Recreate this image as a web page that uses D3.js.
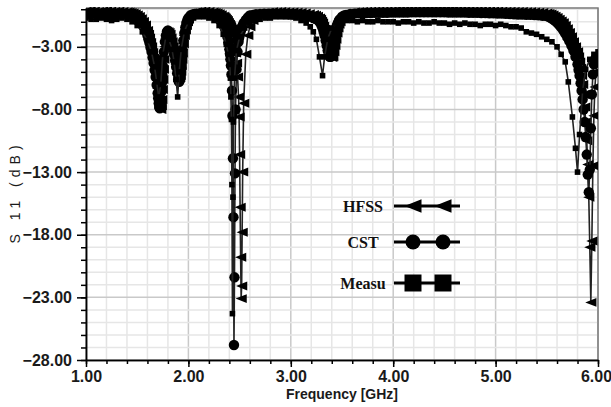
<!DOCTYPE html>
<html lang="en">
<head>
<meta charset="utf-8">
<title>S11 vs Frequency</title>
<script src="https://cdnjs.cloudflare.com/ajax/libs/d3/7.8.5/d3.min.js"></script>
<style>
  body { margin: 0; background: #fff; }
  .axis text { font-family: Arial, "Liberation Sans", sans-serif; font-size: 16px; font-weight: bold; fill: #1a1a1a; }
  .axis path, .axis line { stroke: #000; stroke-width: 1.5px; }
  .title { font-family: Arial, "Liberation Sans", sans-serif; fill: #1a1a1a; }
  .legend text { font-family: "Times New Roman", "Liberation Serif", serif; font-size: 16px; font-weight: bold; fill: #111; }
</style>
</head>
<body>
<script>
// simulated curves share one frequency grid (GHz)
var simFreq = [
  1.00, 1.04, 1.08, 1.12, 1.16, 1.20, 1.24, 1.28, 1.32, 1.36,
  1.40, 1.42, 1.44, 1.46, 1.48, 1.50, 1.52, 1.54, 1.56, 1.58,
  1.60, 1.61, 1.62, 1.63, 1.64, 1.65, 1.66, 1.67, 1.68, 1.69,
  1.70, 1.705, 1.71, 1.715, 1.72, 1.725, 1.73, 1.735, 1.74, 1.745,
  1.75, 1.755, 1.76, 1.77, 1.78, 1.79, 1.80, 1.81, 1.82, 1.83,
  1.84, 1.85, 1.86, 1.87, 1.88, 1.89, 1.90, 1.905, 1.91, 1.915,
  1.92, 1.925, 1.93, 1.935, 1.94, 1.95, 1.96, 1.97, 1.98, 1.99,
  2.00, 2.02, 2.04, 2.06, 2.08, 2.12, 2.16, 2.20, 2.24, 2.26,
  2.28, 2.30, 2.32, 2.34, 2.35, 2.36, 2.37, 2.38, 2.39, 2.40,
  2.405, 2.41, 2.415, 2.42, 2.425, 2.43, 2.435, 2.44, 2.445, 2.45,
  2.455, 2.46, 2.47, 2.48, 2.49, 2.495, 2.50, 2.505, 2.51, 2.515,
  2.52, 2.525, 2.53, 2.54, 2.56, 2.58, 2.60, 2.63, 2.66, 2.70,
  2.74, 2.78, 2.82, 2.86, 2.90, 2.94, 2.98, 3.02, 3.06, 3.10,
  3.14, 3.18, 3.22, 3.24, 3.26, 3.28, 3.29, 3.30, 3.31, 3.32,
  3.33, 3.34, 3.35, 3.36, 3.37, 3.38, 3.39, 3.40, 3.41, 3.42,
  3.43, 3.44, 3.45, 3.46, 3.47, 3.48, 3.50, 3.52, 3.54, 3.58,
  3.62, 3.66, 3.70, 3.74, 3.78, 3.82, 3.86, 3.90, 3.94, 3.98,
  4.02, 4.06, 4.10, 4.14, 4.18, 4.22, 4.26, 4.30, 4.34, 4.38,
  4.42, 4.46, 4.50, 4.54, 4.58, 4.62, 4.66, 4.70, 4.74, 4.78,
  4.82, 4.86, 4.90, 4.94, 4.98, 5.02, 5.06, 5.10, 5.14, 5.18,
  5.22, 5.26, 5.30, 5.34, 5.38, 5.42, 5.46, 5.50, 5.52, 5.54,
  5.56, 5.58, 5.60, 5.62, 5.64, 5.66, 5.68, 5.70, 5.72, 5.74,
  5.76, 5.78, 5.80, 5.81, 5.82, 5.83, 5.84, 5.85, 5.86, 5.87,
  5.88, 5.89, 5.90, 5.91, 5.92, 5.93, 5.94, 5.95, 5.96, 5.97,
  5.98, 5.99, 6.00
];
var hfssDb = [
  -0.15, -0.12, -0.15, -0.18, -0.14, -0.12, -0.15, -0.17, -0.15, -0.18,
  -0.2, -0.22, -0.25, -0.3, -0.35, -0.45, -0.58, -0.75, -0.97, -1.25,
  -1.7, -2.0, -2.3, -2.65, -3.0, -3.45, -3.9, -4.45, -5.0, -5.65,
  -6.3, -6.65, -7.0, -7.35, -7.7, -7.9, -8.0, -7.7, -7.2, -6.4,
  -5.6, -4.8, -4.0, -3.0, -2.3, -1.95, -1.8, -1.85, -2.0, -2.3,
  -2.6, -3.0, -3.4, -3.9, -4.4, -4.8, -5.2, -5.4, -5.5, -5.45,
  -5.3, -4.95, -4.5, -4.0, -3.5, -2.75, -2.1, -1.65, -1.3, -1.0,
  -0.8, -0.5, -0.35, -0.27, -0.2, -0.15, -0.15, -0.18, -0.22, -0.26,
  -0.3, -0.36, -0.44, -0.55, -0.62, -0.7, -0.8, -0.9, -1.05, -1.2,
  -1.3, -1.4, -1.5, -1.6, -1.75, -1.9, -2.1, -2.4, -2.6, -2.9,
  -3.2, -3.5, -4.3, -5.4, -7.0, -8.6, -11.6, -15.8, -19.8, -23.1,
  -22.1, -17.8, -13.0, -7.5, -3.6, -2.1, -1.4, -0.9, -0.6, -0.4,
  -0.3, -0.25, -0.2, -0.2, -0.18, -0.2, -0.22, -0.22, -0.24, -0.26,
  -0.3, -0.35, -0.42, -0.48, -0.55, -0.7, -0.8, -0.95, -1.1, -1.35,
  -1.6, -1.95, -2.3, -2.7, -3.1, -3.45, -3.7, -3.85, -3.8, -3.4,
  -2.9, -2.4, -1.9, -1.5, -1.2, -1.0, -0.7, -0.52, -0.4, -0.3,
  -0.22, -0.2, -0.18, -0.16, -0.15, -0.15, -0.14, -0.14, -0.13, -0.13,
  -0.12, -0.12, -0.12, -0.11, -0.11, -0.11, -0.11, -0.1, -0.1, -0.1,
  -0.1, -0.1, -0.1, -0.1, -0.1, -0.11, -0.11, -0.11, -0.12, -0.12,
  -0.12, -0.12, -0.13, -0.13, -0.14, -0.14, -0.15, -0.16, -0.16, -0.17,
  -0.18, -0.18, -0.19, -0.2, -0.21, -0.23, -0.26, -0.3, -0.33, -0.38,
  -0.45, -0.55, -0.66, -0.8, -0.93, -1.07, -1.3, -1.55, -1.85, -2.2,
  -2.6, -3.0, -3.4, -3.8, -4.2, -4.7, -5.3, -6.0, -6.8, -7.8,
  -9.0, -10.5, -12.4, -15.0, -19.0, -23.4, -18.5, -12.5, -8.5, -6.2,
  -5.0, -4.3, -3.9
];
var cstDb = [
  -0.35, -0.3, -0.32, -0.38, -0.33, -0.3, -0.35, -0.36, -0.34, -0.38,
  -0.38, -0.41, -0.45, -0.52, -0.6, -0.72, -0.87, -1.1, -1.35, -1.7,
  -2.1, -2.4, -2.7, -3.05, -3.4, -3.85, -4.3, -4.85, -5.4, -6.05,
  -6.7, -7.1, -7.5, -7.8, -7.9, -7.6, -7.2, -6.6, -5.9, -5.2,
  -4.5, -3.9, -3.4, -2.6, -2.1, -1.8, -1.7, -1.8, -2.0, -2.35,
  -2.7, -3.15, -3.6, -4.1, -4.6, -5.1, -5.6, -5.75, -5.8, -5.6,
  -5.2, -4.7, -4.2, -3.7, -3.2, -2.5, -1.9, -1.45, -1.1, -0.85,
  -0.7, -0.5, -0.42, -0.38, -0.35, -0.32, -0.33, -0.36, -0.45, -0.52,
  -0.6, -0.72, -0.9, -1.2, -1.4, -1.6, -1.9, -2.2, -2.65, -3.2,
  -3.55, -4.0, -4.5, -5.2, -6.5, -8.5, -11.9, -16.6, -26.8, -21.4,
  -13.1, -8.0, -4.8, -3.4, -2.6, -2.3, -2.1, -1.9, -1.75, -1.6,
  -1.5, -1.4, -1.3, -1.1, -0.85, -0.65, -0.5, -0.45, -0.4, -0.38,
  -0.36, -0.35, -0.34, -0.35, -0.36, -0.38, -0.4, -0.42, -0.45, -0.48,
  -0.52, -0.58, -0.7, -0.77, -0.85, -1.0, -1.1, -1.3, -1.5, -1.8,
  -2.1, -2.5, -2.9, -3.3, -3.6, -3.8, -3.8, -3.5, -3.0, -2.5,
  -2.0, -1.6, -1.3, -1.1, -0.9, -0.8, -0.6, -0.5, -0.45, -0.38,
  -0.35, -0.33, -0.32, -0.3, -0.3, -0.29, -0.28, -0.28, -0.28, -0.27,
  -0.27, -0.26, -0.26, -0.26, -0.25, -0.25, -0.25, -0.25, -0.25, -0.25,
  -0.25, -0.25, -0.25, -0.26, -0.26, -0.26, -0.27, -0.27, -0.28, -0.28,
  -0.29, -0.3, -0.31, -0.32, -0.33, -0.34, -0.35, -0.37, -0.38, -0.4,
  -0.42, -0.43, -0.44, -0.45, -0.47, -0.49, -0.52, -0.55, -0.61, -0.7,
  -0.8, -0.93, -1.07, -1.25, -1.45, -1.68, -1.95, -2.25, -2.55, -2.9,
  -3.3, -3.8, -4.4, -4.85, -5.3, -5.9, -6.5, -7.2, -8.0, -9.0,
  -10.2, -11.6, -13.2, -14.6, -12.8, -9.5, -6.8, -5.2, -4.4, -4.0,
  -3.9, -3.9, -4.0
];

// measured curve
var measFreq = [
  1.00, 1.05, 1.10, 1.15, 1.20, 1.25, 1.30, 1.35, 1.40, 1.45,
  1.50, 1.55, 1.60, 1.64, 1.67, 1.69, 1.71, 1.73, 1.75, 1.78,
  1.81, 1.84, 1.86, 1.88, 1.895, 1.91, 1.93, 1.96, 2.00, 2.05,
  2.10, 2.15, 2.20, 2.25, 2.30, 2.34, 2.37, 2.39, 2.405, 2.41,
  2.415, 2.42, 2.425, 2.43, 2.435, 2.44, 2.45, 2.47, 2.50, 2.55,
  2.60, 2.65, 2.70, 2.75, 2.80, 2.85, 2.90, 2.95, 3.00, 3.05,
  3.10, 3.15, 3.19, 3.22, 3.25, 3.28, 3.31, 3.33, 3.36, 3.40,
  3.45, 3.50, 3.55, 3.60, 3.65, 3.70, 3.75, 3.80, 3.85, 3.90,
  3.95, 4.00, 4.05, 4.10, 4.15, 4.20, 4.25, 4.30, 4.35, 4.40,
  4.45, 4.50, 4.55, 4.60, 4.65, 4.70, 4.75, 4.80, 4.85, 4.90,
  4.95, 5.00, 5.05, 5.10, 5.15, 5.20, 5.25, 5.30, 5.35, 5.40,
  5.45, 5.50, 5.55, 5.60, 5.64, 5.68, 5.71, 5.75, 5.78, 5.80,
  5.82, 5.85, 5.88, 5.92, 5.96, 6.00
];
var measDb = [
  -0.7, -0.8, -0.8, -0.7, -0.8, -0.9, -0.8, -0.7, -0.8, -1.0,
  -1.3, -1.8, -2.5, -3.4, -4.6, -5.8, -7.0, -6.0, -3.6, -2.2,
  -2.4, -3.2, -4.2, -5.6, -7.0, -5.0, -3.2, -1.8, -1.0, -0.7,
  -0.6, -0.6, -0.7, -0.9, -1.3, -2.0, -2.8, -3.6, -4.4, -5.5,
  -7.0, -8.8, -14.0, -24.3, -15.0, -9.0, -5.5, -3.3, -2.2, -1.5,
  -1.1, -0.9, -0.8, -0.7, -0.7, -0.6, -0.6, -0.6, -0.6, -0.7,
  -0.9, -1.1, -1.4, -1.8, -2.4, -3.8, -5.3, -3.8, -2.4, -1.5,
  -1.1, -0.9, -0.9, -0.9, -1.0, -0.9, -1.0, -1.0, -0.9, -1.0,
  -1.0, -1.0, -1.1, -1.0, -1.0, -1.1, -1.0, -1.1, -1.1, -1.0,
  -1.1, -1.1, -1.2, -1.1, -1.2, -1.1, -1.2, -1.2, -1.3, -1.2,
  -1.2, -1.3, -1.2, -1.3, -1.4, -1.4, -1.5, -1.8, -1.9, -2.0,
  -2.2, -2.4, -2.6, -3.0, -3.6, -4.2, -5.8, -8.6, -11.1, -13.0,
  -10.0, -6.5, -4.8, -4.0, -3.6, -3.4
];

var xTicks = [1, 2, 3, 4, 5, 6];
var yTicks = [-28, -23, -18, -13, -8, -3];
var legendNames = ["HFSS", "CST", "Measu"];

var W = 611, H = 407,
    pLeft = 86, pRight = 598, pTop = 8, pBottom = 360;

var svg = d3.select("body").append("svg")
    .attr("width", W)
    .attr("height", H);

var x = d3.scaleLinear().domain([1, 6]).range([pLeft, pRight]);
var y = d3.scaleLinear().domain([-28, 0.1]).range([pBottom, pTop]);

// grid
var grid = svg.append("g");
var xMinor = d3.range(10, 61, 2).map(function(d) { return d / 10; });
var yMinor = d3.range(-28, 1, 1);
grid.selectAll(".vx").data(xMinor).enter().append("line")
    .attr("x1", x).attr("x2", x).attr("y1", pTop).attr("y2", pBottom)
    .attr("stroke", function(d) { return Math.abs(d - Math.round(d)) < 1e-6 ? "#c9c9c9" : "#e6e6e6"; })
    .attr("stroke-width", 1.5);
grid.selectAll(".hy").data(yMinor).enter().append("line")
    .attr("x1", pLeft).attr("x2", pRight).attr("y1", y).attr("y2", y)
    .attr("stroke", function(d) { return yTicks.indexOf(d) >= 0 ? "#c9c9c9" : "#e6e6e6"; })
    .attr("stroke-width", 1.5);

// frame (top, right)
svg.append("path")
    .attr("d", "M" + pLeft + "," + pTop + "H" + pRight + "V" + pBottom)
    .attr("fill", "none").attr("stroke", "#7a7a7a").attr("stroke-width", 1.5);

svg.append("clipPath").attr("id", "plot")
  .append("rect").attr("x", pLeft).attr("y", pTop - 1)
    .attr("width", pRight - pLeft).attr("height", pBottom - pTop + 1);

var plot = svg.append("g").attr("clip-path", "url(#plot)");

function markerPath(kind, s) {
  if (kind === "tri") return "M" + (-s) + ",0L" + s + "," + (-s * 0.8) + "L" + s + "," + (s * 0.8) + "Z";
  if (kind === "sq") return "M" + (-s) + "," + (-s) + "h" + (2 * s) + "v" + (2 * s) + "h" + (-2 * s) + "Z";
  return d3.symbol(d3.symbolCircle, Math.PI * s * s)();
}

function drawCurve(fr, db, kind, size) {
  var pts = fr.map(function(f, i) { return [f, db[i]]; });
  var line = d3.line().x(function(d) { return x(d[0]); }).y(function(d) { return y(d[1]); });
  var g = plot.append("g");
  g.append("path").datum(pts).attr("d", line)
    .attr("fill", "none").attr("stroke", "#222").attr("stroke-width", 1.6);
  g.selectAll("path.m").data(pts).enter().append("path")
    .attr("class", "m")
    .attr("d", markerPath(kind, size))
    .attr("transform", function(d) { return "translate(" + x(d[0]) + "," + y(d[1]) + ")"; })
    .attr("fill", "#000");
}

drawCurve(simFreq, hfssDb, "tri", 5.6);
drawCurve(simFreq, cstDb, "circ", 5.2);
drawCurve(measFreq, measDb, "sq", 2.8);

// axes
svg.append("g").attr("class", "axis")
    .attr("transform", "translate(0," + pBottom + ")")
    .call(d3.axisBottom(x).tickValues(xMinor).tickSize(4).tickSizeOuter(0).tickFormat(""));
var xAxis = svg.append("g").attr("class", "axis")
    .attr("transform", "translate(0," + pBottom + ")")
    .call(d3.axisBottom(x).tickValues(xTicks).tickSize(7).tickPadding(4).tickSizeOuter(0).tickFormat(d3.format(".2f")));
xAxis.selectAll(".tick:last-of-type text").attr("dx", "-2px");
svg.append("g").attr("class", "axis")
    .attr("transform", "translate(" + pLeft + ",0)")
    .call(d3.axisLeft(y).tickValues(yMinor).tickSize(5).tickSizeOuter(0).tickFormat(""));
svg.append("g").attr("class", "axis")
    .attr("transform", "translate(" + pLeft + ",0)")
    .call(d3.axisLeft(y).tickValues(yTicks).tickSize(9).tickPadding(5).tickSizeOuter(0).tickFormat(d3.format(".2f")));

svg.append("text").attr("class", "title")
    .attr("x", 342).attr("y", 399)
    .attr("text-anchor", "middle")
    .attr("font-size", 14).attr("font-weight", "bold")
    .text("Frequency [GHz]");

svg.append("text").attr("class", "title")
    .attr("transform", "translate(20,192) rotate(-90)")
    .attr("text-anchor", "middle")
    .attr("font-size", 14)
    .attr("letter-spacing", 5)
    .text("S 11  (dB)");

// legend
var legY = [206, 242, 283];
var legKind = ["tri", "circ", "sq"];
var legSize = [8.5, 7.5, 8.5];
var legend = svg.append("g").attr("class", "legend")
  .selectAll("g").data(legendNames).enter().append("g")
    .attr("transform", function(d, i) { return "translate(0," + legY[i] + ")"; });

legend.append("text")
    .attr("x", 363).attr("dy", "0.35em")
    .attr("text-anchor", "middle")
    .text(function(d) { return d; });
legend.append("line")
    .attr("x1", 394).attr("x2", 460)
    .attr("stroke", "#000").attr("stroke-width", 3);
legend.each(function(d, i) {
  d3.select(this).selectAll("path").data([413, 443]).enter().append("path")
    .attr("d", markerPath(legKind[i], legSize[i]))
    .attr("transform", function(px) { return "translate(" + px + ",0)"; })
    .attr("fill", "#000");
});
</script>
</body>
</html>
